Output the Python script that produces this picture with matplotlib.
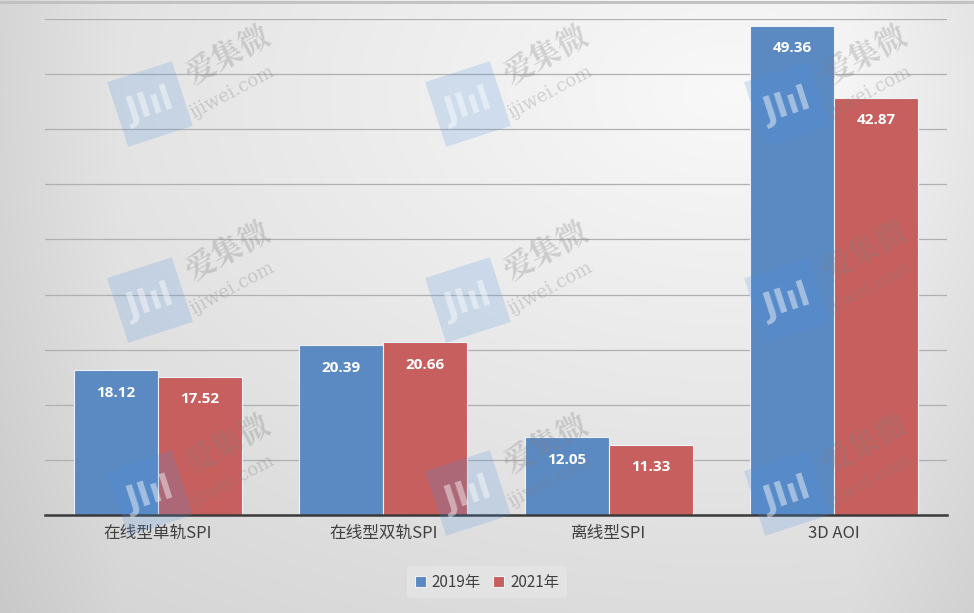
"""
Grouped bar chart: SPI / AOI equipment, 2019 vs 2021.
"""
import numpy as np
import matplotlib as mpl
mpl.use("Agg")
import matplotlib.pyplot as plt
from matplotlib.patches import Rectangle
from matplotlib.transforms import Affine2D


categories = ["在线型单轨SPI", "在线型双轨SPI", "离线型SPI", "3D AOI"]
series_names = ["2019年", "2021年"]
values_2019 = [18.12, 20.39, 12.05, 49.36]
values_2021 = [17.52, 20.66, 11.33, 42.87]

colors = ["#5b89c2", "#c65f5d"]

plt.rcParams["font.family"] = ["Noto Sans CJK SC", "DejaVu Sans"]

W, H = 974, 613
fig = plt.figure(figsize=(W / 100, H / 100), dpi=100)

# background gradient over the whole figure
bg = fig.add_axes([0, 0, 1, 1], zorder=-10)
yy, xx = np.mgrid[0:1:300j, 0:1:500j]
r = np.sqrt((xx - 0.75) ** 2 + ((1 - yy) - 0.85) ** 2)
shade = 0.975 - 0.13 * r
edge = np.minimum(np.minimum(xx, 1 - xx) * 8, 1)
shade = shade - 0.04 * (1 - edge)
shade = np.clip(shade, 0, 1)
bg.imshow(np.dstack([shade] * 3), extent=[0, 1, 0, 1], aspect="auto", origin="upper")
bg.plot([0, 1], [0.997, 0.997], color="#c0c0c0", lw=2, transform=bg.transAxes)
bg.set_xlim(0, 1)
bg.set_ylim(0, 1)
bg.axis("off")

ax = fig.add_axes([45 / W, 1 - 515 / H, 902 / W, 496 / H])
ax.set_facecolor("none")

x = np.arange(len(categories))
width = 0.373
for i, (vals, name) in enumerate(zip([values_2019, values_2021], series_names)):
    offs = (i - 0.5) * width
    ax.bar(x + offs, vals, width, bottom=0, color=colors[i], label=name,
           edgecolor="#eef2f8", linewidth=0.8, zorder=3)
    for xi, v in zip(x + offs, vals):
        ax.annotate(f"{v:.2f}", (xi, v), xytext=(0, -16), textcoords="offset points",
                    ha="center", va="center", color="white", fontsize=11,
                    fontweight="bold", family="Open Sans", zorder=5)

ax.set_xlim(-0.5, len(categories) - 0.5)
ax.set_ylim(5, 50)
ax.set_yticks(np.arange(5, 51, 5))
ax.set_yticklabels([])
ax.tick_params(axis="y", length=0)
ax.tick_params(axis="x", length=0, pad=7, labelsize=12, labelcolor="#404040")
ax.set_xticks(x)
ax.set_xticklabels(categories)
ax.grid(axis="y", color="#b0b0b0", linewidth=0.9, zorder=0)
for s in ["top", "right", "left"]:
    ax.spines[s].set_visible(False)
ax.spines["bottom"].set_color("#3a3a3a")
ax.spines["bottom"].set_linewidth(1.8)
ax.spines["bottom"].set_zorder(6)

leg = fig.legend(loc="center", bbox_to_anchor=(487 / W, 1 - 582 / H), ncol=2,
                 frameon=True, fontsize=11, handlelength=0.7, handleheight=0.7,
                 handletextpad=0.4, columnspacing=0.8, borderpad=0.5)
leg.get_frame().set_facecolor("#e4e4e4")
leg.get_frame().set_edgecolor("none")
leg.get_frame().set_alpha(0.9)
for t in leg.get_texts():
    t.set_color("#404040")

# watermarks
wm = fig.add_axes([0, 0, 1, 1], zorder=20)
wm.set_xlim(0, W)
wm.set_ylim(H, 0)
wm.axis("off")
for lx in [150, 468, 787]:
    for ly in [104, 300, 493]:
        tr = Affine2D().rotate_deg_around(lx, ly, -18) + wm.transData
        sq = Rectangle((lx - 34, ly - 34), 68, 68, facecolor="#4a90e2", alpha=0.2,
                       edgecolor="none", transform=tr)
        wm.add_patch(sq)
        wm.text(lx, ly + 2, "JIıl", ha="center", va="center", color="white", alpha=0.45,
                fontsize=24, fontweight="bold", rotation=18, family="DejaVu Sans")
        wm.text(lx + 78, ly - 48, "爱集微", ha="center", va="center", color="#808080",
                alpha=0.3, fontsize=22, fontweight="bold", rotation=28,
                family=["Noto Serif CJK SC", "Noto Sans CJK SC"])
        wm.text(lx + 82, ly - 12, "ijiwei.com", ha="center", va="center", color="#808080",
                alpha=0.3, fontsize=13, rotation=28, family="DejaVu Serif")

fig.savefig("out.png", dpi=100)
